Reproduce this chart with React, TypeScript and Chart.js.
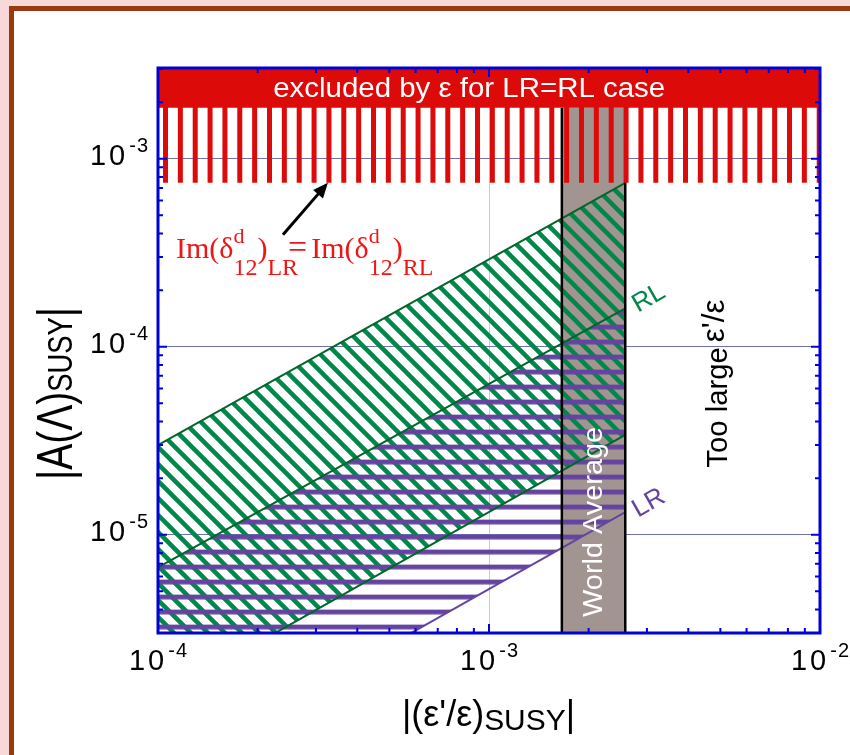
import React, { useEffect, useRef } from 'react';
import { Chart, registerables } from 'chart.js';
Chart.register(...registerables);

// ---- data ----
const xRange = [1e-4, 1e-2];
const yRange = [3.0e-6, 3.04e-3];
const xTicks = [1e-4, 1e-3, 1e-2];
const xTickExponents = ['-4', '-3', '-2'];
const yTicks = [1e-5, 1e-4, 1e-3];
const yTickExponents = ['-5', '-4', '-3'];
const bandX = [1e-4, 2.58e-3];
const rlUpper = [3.0e-5, 7.45e-4];
const rlLower = [1.33e-6, 3.4e-5];
const lrUpper = [6.7e-6, 1.6e-4];
const lrLower = [5.2e-7, 1.32e-5];
const worldAverage = [1.66e-3, 2.58e-3];
const excludedStripesBottom = 7.45e-4;
const excludedSolidBottom = 1.87e-3;

const RED = '#dd0a0a';
const GRAY = '#a29591';
const GREEN = '#00884a';
const DARKGREEN = '#00662a';
const PURPLE = '#6444a0';
const BLUE = '#0000d8';
const SANS = '"Liberation Sans", Arial, sans-serif';
const SERIF = '"Liberation Serif", "Times New Roman", serif';

type Part = { t: string; size: number; dy?: number; dx?: number; back?: boolean; family?: string };

function richWidth(ctx: CanvasRenderingContext2D, parts: Part[], family: string) {
  let w = 0;
  for (const p of parts) {
    ctx.font = `${p.size}px ${p.family || family}`;
    w += p.dx || 0;
    if (!p.back) w += ctx.measureText(p.t).width;
  }
  return w;
}

function drawRich(
  ctx: CanvasRenderingContext2D,
  parts: Part[],
  x: number,
  y: number,
  o: { family: string; color: string; align?: 'left' | 'center' | 'right'; rot?: number; width?: number }
) {
  const natural = richWidth(ctx, parts, o.family);
  const hs = o.width ? o.width / natural : 1;
  ctx.save();
  ctx.translate(x, y);
  if (o.rot) ctx.rotate(o.rot);
  ctx.scale(hs, 1);
  let cx = o.align === 'center' ? -natural / 2 : o.align === 'right' ? -natural : 0;
  ctx.fillStyle = o.color;
  ctx.textBaseline = 'alphabetic';
  ctx.textAlign = 'left';
  for (const p of parts) {
    ctx.font = `${p.size}px ${p.family || o.family}`;
    cx += p.dx || 0;
    ctx.fillText(p.t, cx, p.dy || 0);
    if (!p.back) cx += ctx.measureText(p.t).width;
  }
  ctx.restore();
}

function isDecade(v: number | undefined) {
  if (!v) return false;
  const l = Math.log10(v);
  return Math.abs(l - Math.round(l)) < 1e-6;
}

function makeStripes(vertical: boolean, tileSize: number, count: number, thick: number, color: string, offset: number) {
  const c = document.createElement('canvas');
  c.width = vertical ? tileSize : 4;
  c.height = vertical ? 4 : tileSize;
  const g = c.getContext('2d')!;
  g.fillStyle = color;
  const p = tileSize / count;
  for (let i = 0; i < count; i++) {
    if (vertical) g.fillRect(i * p, 0, thick, 4);
    else g.fillRect(0, i * p, 4, thick);
  }
  const pat = g.createPattern(c, 'repeat')!;
  pat.setTransform(new DOMMatrix(vertical ? [1, 0, 0, 1, offset, 0] : [1, 0, 0, 1, 0, offset]));
  return pat;
}

function makeDiag(P: number, w: number, color: string) {
  const c = document.createElement('canvas');
  c.width = P;
  c.height = P;
  const g = c.getContext('2d')!;
  g.strokeStyle = color;
  g.lineWidth = w;
  for (const k of [-1, 0, 1]) {
    g.beginPath();
    g.moveTo(k * P - P, -P);
    g.lineTo(k * P + 2 * P, 2 * P);
    g.stroke();
  }
  return g.createPattern(c, 'repeat')!;
}

const overlayPlugin = {
  id: 'overlay',
  afterDatasetsDraw(chart: any) {
    const ctx: CanvasRenderingContext2D = chart.ctx;
    const xs = chart.scales.x;
    const ys = chart.scales.y;
    const { left, right, top, bottom } = chart.chartArea;
    const X = (v: number) => xs.getPixelForValue(v);
    const Y = (v: number) => ys.getPixelForValue(v);

    // frame + inward ticks
    ctx.save();
    ctx.strokeStyle = BLUE;
    ctx.lineWidth = 2;
    const ticks = (min: number, max: number) => {
      const out: { v: number; major: boolean }[] = [];
      for (let d = Math.floor(Math.log10(min)) - 1; d <= Math.ceil(Math.log10(max)); d++) {
        for (let k = 1; k <= 9; k++) {
          const v = k * Math.pow(10, d);
          if (v >= min * 0.999 && v <= max * 1.001) out.push({ v, major: k === 1 });
        }
      }
      return out;
    };
    ctx.beginPath();
    for (const t of ticks(xRange[0], xRange[1])) {
      const px = X(t.v);
      const len = t.major ? 9 : 5;
      ctx.moveTo(px, bottom);
      ctx.lineTo(px, bottom - len);
      ctx.moveTo(px, top);
      ctx.lineTo(px, top + len);
    }
    for (const t of ticks(yRange[0], yRange[1])) {
      const py = Y(t.v);
      const len = t.major ? 9 : 5;
      ctx.moveTo(left, py);
      ctx.lineTo(left + len, py);
      ctx.moveTo(right, py);
      ctx.lineTo(right - len, py);
    }
    ctx.stroke();
    ctx.lineWidth = 3;
    ctx.strokeRect(left, top, right - left, bottom - top);
    ctx.restore();

    // tick labels
    const tickParts = (e: string): Part[] => [
      { t: '1', size: 29 },
      { t: '0', size: 29, dx: 3 },
      { t: e[0], size: 20, dy: -13, dx: 4 },
      { t: e.slice(1), size: 20, dy: -13, dx: 1 },
    ];
    xTicks.forEach((v, i) => {
      drawRich(ctx, tickParts(xTickExponents[i]), X(v), bottom + 37, { family: SANS, color: '#000', align: 'center' });
    });
    yTicks.forEach((v, i) => {
      drawRich(ctx, tickParts(yTickExponents[i]), left - 10, Y(v) + 6, { family: SANS, color: '#000', align: 'right' });
    });

    // axis titles
    drawRich(
      ctx,
      [
        { t: "|(ε'/ε)", size: 36 },
        { t: 'SUSY', size: 30, dy: 4 },
        { t: '|', size: 36 },
      ],
      (left + right) / 2 - 0.5,
      bottom + 93,
      { family: SANS, color: '#000', align: 'center', width: 173 }
    );
    drawRich(
      ctx,
      [
        { t: '|A(Λ)', size: 50 },
        { t: 'SUSY', size: 35 },
        { t: '|', size: 50 },
      ],
      left - 86,
      (top + bottom) / 2 + 43,
      { family: SANS, color: '#000', align: 'center', rot: -Math.PI / 2, width: 173 }
    );

    // annotations
    drawRich(ctx, [{ t: 'excluded by ε for LR=RL case', size: 27 }], X(8.71e-4), Y(2.14e-3), {
      family: SANS,
      color: '#fff',
      align: 'center',
      width: 392,
    });

    const imParts = (sub: string): Part[] => [
      { t: 'Im(δ', size: 30 },
      { t: 'd', size: 22, dy: -15, back: true },
      { t: '12', size: 24, dy: 17 },
      { t: ')', size: 30 },
      { t: sub, size: 24, dy: 17 },
    ];
    drawRich(
      ctx,
      [...imParts('LR'), { t: '=', size: 34, dx: -10, dy: 0 }, ...imParts('RL').map((p, i) => (i === 0 ? { ...p, dx: 4 } : p))],
      X(1.133e-4),
      Y(2.97e-4),
      { family: SERIF, color: '#f01414', align: 'left' }
    );

    // arrow
    const ax0 = X(2.385e-4), ay0 = Y(3.94e-4);
    const ax1 = X(3.26e-4), ay1 = Y(excludedStripesBottom);
    const ang = Math.atan2(ay1 - ay0, ax1 - ax0);
    ctx.save();
    ctx.strokeStyle = '#000';
    ctx.fillStyle = '#000';
    ctx.lineWidth = 3;
    ctx.beginPath();
    ctx.moveTo(ax0, ay0);
    ctx.lineTo(ax1 - 12 * Math.cos(ang), ay1 - 12 * Math.sin(ang));
    ctx.stroke();
    ctx.beginPath();
    ctx.moveTo(ax1, ay1);
    ctx.lineTo(ax1 - 15 * Math.cos(ang) + 6.5 * Math.sin(ang), ay1 - 15 * Math.sin(ang) - 6.5 * Math.cos(ang));
    ctx.lineTo(ax1 - 15 * Math.cos(ang) - 6.5 * Math.sin(ang), ay1 - 15 * Math.sin(ang) + 6.5 * Math.cos(ang));
    ctx.closePath();
    ctx.fill();
    ctx.restore();

    const slopeAng = Math.atan2(Y(1e-4) - Y(1e-3), X(1e-3) - X(1e-4));
    drawRich(ctx, [{ t: 'RL', size: 26, dy: 9 }], X(3.02e-3), Y(1.845e-4), {
      family: SANS,
      color: GREEN,
      align: 'center',
      rot: -Math.abs(slopeAng),
    });
    drawRich(ctx, [{ t: 'LR', size: 26, dy: 9 }], X(3.02e-3), Y(1.5e-5), {
      family: SANS,
      color: PURPLE,
      align: 'center',
      rot: -Math.abs(slopeAng),
    });
    drawRich(ctx, [{ t: 'World Average', size: 28 }], X(2.19e-3), Y(1.17e-5), {
      family: SANS,
      color: '#fff',
      align: 'center',
      rot: -Math.PI / 2,
      width: 190,
    });
    drawRich(
      ctx,
      [
        { t: 'Too large', size: 30 },
        { t: "ε'/ε", size: 32, dx: 5, dy: -3 },
      ],
      X(5.24e-3),
      Y(6.36e-5),
      { family: SANS, color: '#000', align: 'center', rot: -Math.PI / 2, width: 168 }
    );
  },
};

export default function App() {
  const ref = useRef<HTMLCanvasElement | null>(null);
  useEffect(() => {
    const canvas = ref.current!;
    const ctx = canvas.getContext('2d')!;
    const redPat = makeStripes(true, 104, 7, 5, RED, 163 % 104);
    const purplePat = makeStripes(false, 15, 1, 4.8, PURPLE, 624.6 % 15);
    const greenPat = makeDiag(17, 4.5, GREEN);
    const line = (xv: number[], yv: number[]) => xv.map((x, i) => ({ x, y: yv[i] }));

    const chart = new Chart(ctx, {
      type: 'scatter',
      data: {
        datasets: [
          {
            data: line(worldAverage, [excludedSolidBottom, excludedSolidBottom]),
            showLine: true,
            fill: 'start',
            backgroundColor: GRAY,
            borderWidth: 0,
            order: 100,
          } as any,
          {
            data: line(bandX, rlUpper),
            showLine: true,
            fill: 2,
            backgroundColor: greenPat,
            borderColor: DARKGREEN,
            borderWidth: 2,
            order: 90,
          },
          {
            data: line(bandX, rlLower),
            showLine: true,
            fill: false,
            borderColor: DARKGREEN,
            borderWidth: 2,
            order: 20,
          },
          {
            data: line(bandX, lrUpper),
            showLine: true,
            fill: 4,
            backgroundColor: purplePat,
            borderColor: DARKGREEN,
            borderWidth: 2,
            order: 80,
          },
          {
            data: line(bandX, lrLower),
            showLine: true,
            fill: false,
            borderColor: PURPLE,
            borderWidth: 2,
            order: 20,
          },
          {
            data: line([worldAverage[0], worldAverage[0]], [yRange[0], excludedSolidBottom]),
            showLine: true,
            fill: false,
            borderColor: '#000',
            borderWidth: 2.5,
            order: 15,
          },
          {
            data: line([worldAverage[1], worldAverage[1]], [yRange[0], excludedSolidBottom]),
            showLine: true,
            fill: false,
            borderColor: '#000',
            borderWidth: 2.5,
            order: 15,
          },
          {
            data: line(xRange, [excludedStripesBottom, excludedStripesBottom]),
            showLine: true,
            fill: 'end',
            backgroundColor: redPat,
            borderWidth: 0,
            order: 10,
          } as any,
          {
            data: line(xRange, [excludedSolidBottom, excludedSolidBottom]),
            showLine: true,
            fill: 'end',
            backgroundColor: RED,
            borderWidth: 0,
            order: 9,
          } as any,
        ],
      },
      options: {
        animation: false,
        responsive: false,
        maintainAspectRatio: false,
        layout: { padding: { left: 158, right: 30, top: 68, bottom: 122 } },
        elements: { point: { radius: 0, hoverRadius: 0 }, line: { tension: 0 } },
        plugins: { legend: { display: false }, tooltip: { enabled: false } },
        events: [],
        scales: {
          x: {
            type: 'logarithmic',
            min: xRange[0],
            max: xRange[1],
            bounds: 'data',
            ticks: { display: false },
            border: { display: false },
            grid: {
              drawTicks: false,
              lineWidth: 1,
              color: (c: any) => (isDecade(c.tick?.value) ? '#c8c8d8' : 'rgba(0,0,0,0)'),
            },
          },
          y: {
            type: 'logarithmic',
            min: yRange[0],
            max: yRange[1],
            bounds: 'data',
            ticks: { display: false },
            border: { display: false },
            grid: {
              drawTicks: false,
              lineWidth: 1,
              color: (c: any) => (isDecade(c.tick?.value) ? '#7070b0' : 'rgba(0,0,0,0)'),
            },
          },
        },
      } as any,
      plugins: [overlayPlugin],
    });
    return () => chart.destroy();
  }, []);

  return (
    <div
      style={{
        position: 'fixed',
        left: 0,
        top: 0,
        width: 850,
        height: 755,
        background: '#f7d9d7',
        overflow: 'hidden',
      }}
    >
      <div
        style={{
          position: 'absolute',
          left: 9,
          top: 6,
          width: 900,
          height: 800,
          background: '#fff',
          border: '5px solid #9a3a10',
        }}
      />
      <canvas ref={ref} width={850} height={755} style={{ position: 'absolute', left: 0, top: 0, display: 'block' }} />
    </div>
  );
}
